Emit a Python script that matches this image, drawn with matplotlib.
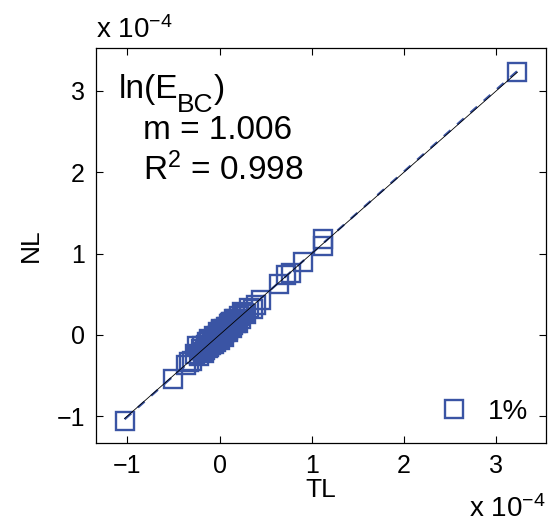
import numpy as np
import matplotlib
matplotlib.use("Agg")
import matplotlib.pyplot as plt

plt.rcParams['font.family'] = ['Liberation Sans', 'DejaVu Sans']
plt.rcParams['mathtext.fontset'] = 'custom'
plt.rcParams['mathtext.rm'] = 'Liberation Sans'
plt.rcParams['mathtext.it'] = 'Liberation Sans'
plt.rcParams['mathtext.default'] = 'regular'

# Values in units of 1e-4
tl = [-1.03, -0.50, -0.33, -0.25, -0.36, -0.30, -0.27, -0.22, -0.20, -0.18,
      -0.15, -0.13, -0.11, -0.10, -0.08, -0.07, -0.05, -0.04, -0.03, -0.02,
      -0.01, 0.00, 0.01, 0.02, 0.03, 0.04, 0.05, 0.06, 0.08, 0.09,
      0.10, 0.12, 0.14, 0.15, 0.17, 0.19, 0.21, 0.23, 0.26, 0.29,
      0.32, 0.36, 0.39, 0.45, 0.64, 0.72, 0.78, 0.91, 1.12, 1.12, 3.23,
      -0.19, -0.16, -0.14, -0.12, -0.09, -0.06, -0.04, -0.02, 0.00, 0.02,
      0.04, 0.07, 0.09, 0.11, 0.13, 0.16, 0.18, -0.17, -0.11, -0.06,
      0.01, 0.05, 0.12, 0.20, 0.24]
nl = [-1.06, -0.54, -0.33, -0.14, -0.37, -0.32, -0.24, -0.26, -0.17, -0.21,
      -0.12, -0.16, -0.08, -0.13, -0.06, -0.10, -0.03, -0.07, -0.01, -0.05,
      0.02, -0.02, 0.04, 0.00, 0.06, 0.02, 0.07, 0.04, 0.10, 0.06,
      0.13, 0.10, 0.16, 0.12, 0.19, 0.17, 0.23, 0.20, 0.27, 0.25,
      0.33, 0.32, 0.37, 0.43, 0.62, 0.73, 0.76, 0.90, 1.18, 1.09, 3.23,
      -0.14, -0.19, -0.09, -0.15, -0.12, -0.01, -0.09, 0.03, -0.06, 0.06,
      -0.01, 0.10, 0.03, 0.14, 0.08, 0.20, 0.14, -0.22, -0.05, -0.11,
      0.07, -0.03, 0.16, 0.15, 0.28]
slope = 1.006
r2 = 0.998
legend_label = '1%'

blue = '#3a54a4'

fig = plt.figure(figsize=(5.52, 5.26), dpi=100)
ax = fig.add_axes([0.174, 0.158, 0.815, 0.751])

x = np.array(tl)
y = np.array(nl)
ax.plot(x, y, linestyle='none', marker='s', markersize=13.5,
        markerfacecolor='none', markeredgecolor=blue, markeredgewidth=1.7,
        label=legend_label, zorder=3)

# regression fit (dashed) and 1:1 reference line
xs = np.array([x.min(), x.max()])
intercept = y.mean() - slope * x.mean()
ax.plot(xs, slope * xs + intercept, color=blue, linestyle=(0, (4, 4)),
        linewidth=1.6, zorder=2)
ax.plot(xs, xs, color='black', linewidth=0.6, zorder=4)

ax.set_xlim(-1.34, 3.54)
ax.set_ylim(-1.33, 3.53)
ax.set_xticks([-1, 0, 1, 2, 3])
ax.set_yticks([-1, 0, 1, 2, 3])
ax.tick_params(direction='in', length=5, width=0.8, top=True, right=True,
               labelsize=18, pad=8, color='black')
for s in ax.spines.values():
    s.set_linewidth(0.9)

ax.set_xlabel('TL', fontsize=19, labelpad=0)
ax.set_ylabel('NL', fontsize=19, labelpad=10)

# title block: ln(E_BC) with a larger, lower subscript
t1 = ax.text(0.05, 0.895, 'ln(E', transform=ax.transAxes, fontsize=24,
             va='center', ha='left')
fig.canvas.draw()
bb = t1.get_window_extent().transformed(ax.transAxes.inverted())
t2 = ax.text(bb.x1 - 0.002, 0.855, 'BC', transform=ax.transAxes, fontsize=19,
             va='center', ha='left')
fig.canvas.draw()
bb2 = t2.get_window_extent().transformed(ax.transAxes.inverted())
ax.text(bb2.x1, 0.895, ')', transform=ax.transAxes, fontsize=24,
        va='center', ha='left')

ax.text(0.105, 0.79, 'm = %.3f' % slope, transform=ax.transAxes, fontsize=24,
        va='center', ha='left')
ax.text(0.105, 0.69, r'R$^{2}$ = %.3f' % r2, transform=ax.transAxes,
        fontsize=24, va='center', ha='left')

fig.text(0.174, 0.927, r'x 10$^{-4}$', fontsize=20, ha='left', va='baseline')
fig.text(0.989, 0.018, r'x 10$^{-4}$', fontsize=20, ha='right', va='baseline')

leg = ax.legend(loc='lower right', frameon=False, fontsize=20,
                handlelength=1.0, handletextpad=0.7, borderaxespad=0.25,
                numpoints=1)

fig.savefig('out.png', dpi=100)
